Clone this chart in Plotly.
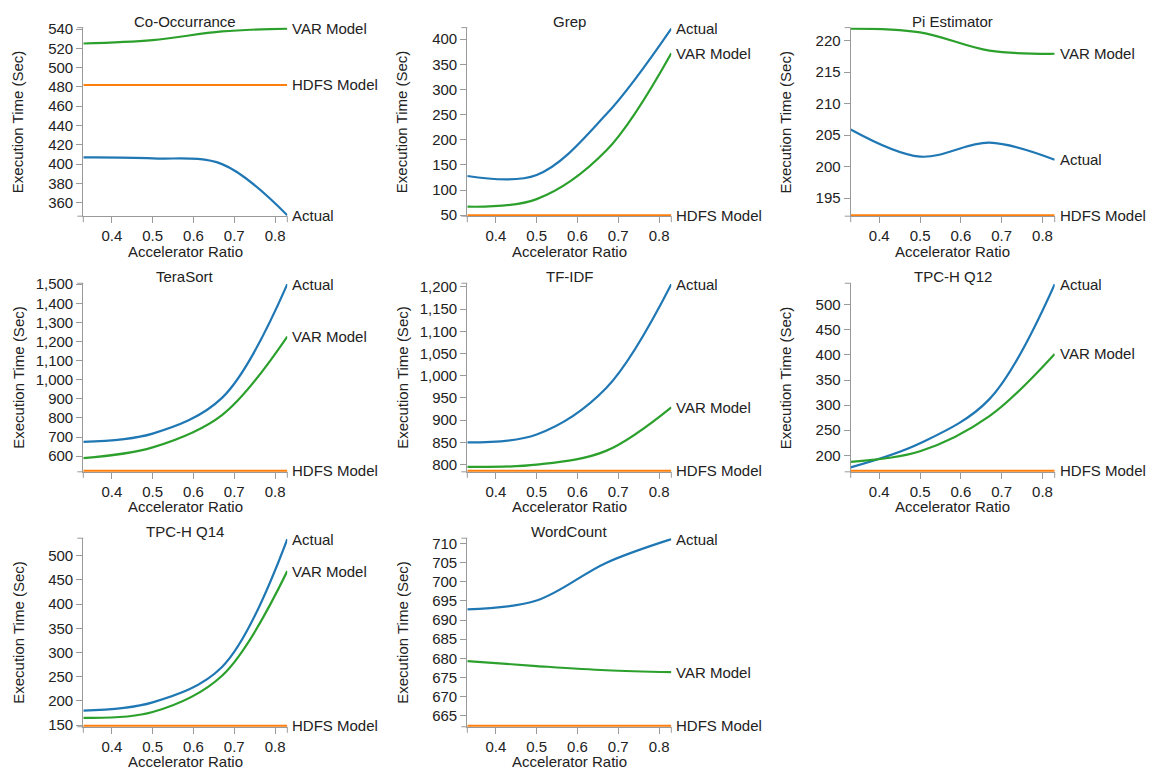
import plotly.graph_objects as go

W, H = 1149, 773

ratios = [0.33, 0.5, 0.67, 0.83]

titles = ["Co-Occurrance", "Grep", "Pi Estimator", "TeraSort", "TF-IDF",
          "TPC-H Q12", "TPC-H Q14", "WordCount"]

actual_co = [407, 406, 400, 347]
var_co = [525, 528.5, 537.5, 540.5]
hdfs_co = [482, 482, 482, 482]

actual_grep = [128, 130, 250, 421]
var_grep = [67, 82, 178, 372]
hdfs_grep = [50, 50, 50, 50]

actual_pi = [205.9, 201.6, 203.8, 201.1]
var_pi = [221.9, 221.3, 218.4, 217.9]
hdfs_pi = [192.3, 192.3, 192.3, 192.3]

actual_tera = [675, 718, 905, 1500]
var_tera = [590, 646, 815, 1226]
hdfs_tera = [523, 523, 523, 523]

actual_tfidf = [850, 868, 972, 1206]
var_tfidf = [795, 800, 831, 929]
hdfs_tfidf = [786, 786, 786, 786]

actual_q12 = [176, 224, 312, 541]
var_q12 = [187, 208, 278, 402]
hdfs_q12 = [169, 169, 169, 169]

actual_q14 = [180, 197, 270, 534]
var_q14 = [165, 177, 252, 468]
hdfs_q14 = [148.5, 148.5, 148.5, 148.5]

actual_wc = [692.8, 695.1, 704.9, 711.1]
var_wc = [679.3, 678.0, 676.9, 676.4]
hdfs_wc = [662.4, 662.4, 662.4, 662.4]

panels = [
    (actual_co, var_co, hdfs_co, 20),
    (actual_grep, var_grep, hdfs_grep, 50),
    (actual_pi, var_pi, hdfs_pi, 5),
    (actual_tera, var_tera, hdfs_tera, 100),
    (actual_tfidf, var_tfidf, hdfs_tfidf, 50),
    (actual_q12, var_q12, hdfs_q12, 50),
    (actual_q14, var_q14, hdfs_q14, 50),
    (actual_wc, var_wc, hdfs_wc, 5),
]

series_names = ["Actual", "VAR Model", "HDFS Model"]
colors = {"Actual": "#1f77b4", "VAR Model": "#2ca02c", "HDFS Model": "#ff7f0e"}

col_left = [83.3, 467.3, 850.7]
row_top = [20.0, 280.7, 540.7]
pw, ph = 204.0, 192.3

FONT = "Liberation Sans, Arial, Helvetica, sans-serif"
TXT = "#222222"
AX = "#9a9a9a"

fig = go.Figure()
annotations = []
shapes = []

for i, (act, var, hdfs, dt) in enumerate(panels):
    r, c = divmod(i, 3)
    n = i + 1
    xa = "xaxis" if n == 1 else f"xaxis{n}"
    ya = "yaxis" if n == 1 else f"yaxis{n}"
    xr = "x" if n == 1 else f"x{n}"
    yr = "y" if n == 1 else f"y{n}"

    x0 = col_left[c] / W
    x1 = (col_left[c] + pw) / W
    y1 = 1 - row_top[r] / H
    y0 = 1 - (row_top[r] + ph) / H

    allv = act + var + hdfs
    lo, hi = min(allv), max(allv)
    pad = (hi - lo) * 0.005

    for name, vals in zip(series_names, [act, var, hdfs]):
        fig.add_trace(go.Scatter(
            x=ratios, y=vals, mode="lines", name=name,
            line=dict(color=colors[name], width=2.2, shape="spline", smoothing=1.0),
            xaxis=xr, yaxis=yr, showlegend=False, hoverinfo="skip"))
        annotations.append(dict(
            x=ratios[-1], y=vals[-1], xref=xr, yref=yr, text=name,
            showarrow=False, xanchor="left", yanchor="middle", xshift=3,
            font=dict(family=FONT, size=15, color=TXT)))

    fig.layout[xa] = dict(
        domain=[x0, x1], anchor=yr, range=[ratios[0], ratios[-1]],
        tickvals=[0.4, 0.5, 0.6, 0.7, 0.8], ticktext=["0.4", "0.5", "0.6", "0.7", "0.8"],
        ticks="outside", ticklen=6, tickcolor=AX, tickwidth=1,
        showline=True, linecolor=AX, linewidth=1.2, showgrid=False, zeroline=False,
        tickfont=dict(family=FONT, size=15, color=TXT), fixedrange=True)
    fig.layout[ya] = dict(
        domain=[y0, y1], anchor=xr, range=[lo - pad, hi + pad],
        dtick=dt, tick0=0, tickformat=",",
        ticks="outside", ticklen=6, tickcolor=AX, tickwidth=1,
        showline=True, linecolor=AX, linewidth=1.2, showgrid=False, zeroline=False,
        tickfont=dict(family=FONT, size=15, color=TXT), fixedrange=True)

    xd = f"{xr} domain"
    yd = f"{yr} domain"

    # outer (end) ticks of the axis domain paths
    for yy in (0, 1):
        shapes.append(dict(type="line", xref=xd, yref=yd, xsizemode="pixel", xanchor=0,
                           x0=-6, x1=0, y0=yy, y1=yy, line=dict(color=AX, width=1), layer="below"))
    for xx in (0, 1):
        shapes.append(dict(type="line", xref=xd, yref=yd, ysizemode="pixel", yanchor=0,
                           y0=-6, y1=0, x0=xx, x1=xx, line=dict(color=AX, width=1), layer="below"))

    annotations.append(dict(
        x=0.5, y=1, xref=xd, yref=yd, text=titles[i], showarrow=False,
        xanchor="center", yanchor="bottom", yshift=-4,
        font=dict(family=FONT, size=15, color=TXT)))
    annotations.append(dict(
        x=0.5, y=0, xref=xd, yref=yd, text="Accelerator Ratio", showarrow=False,
        xanchor="center", yanchor="middle", yshift=-35,
        font=dict(family=FONT, size=15, color=TXT)))
    annotations.append(dict(
        x=0, y=0.5, xref=xd, yref=yd, text="Execution Time (Sec)", showarrow=False,
        xanchor="center", yanchor="middle", xshift=-65, textangle=-90,
        font=dict(family=FONT, size=15, color=TXT)))

fig.update_layout(
    width=W, height=H, margin=dict(l=0, r=0, t=0, b=0),
    paper_bgcolor="white", plot_bgcolor="white",
    annotations=annotations, shapes=shapes, showlegend=False)

fig.write_html(
    "out.html",
    config={"displayModeBar": False},
    post_script=(
        "document.documentElement.style.margin='0';"
        "document.documentElement.style.overflow='hidden';"
        "document.body.style.margin='0';"
        "document.body.style.overflow='hidden';"
        "var g=document.querySelector('.plotly-graph-div');"
        "g.style.position='fixed';g.style.top='0px';g.style.left='0px';"
    ),
)
